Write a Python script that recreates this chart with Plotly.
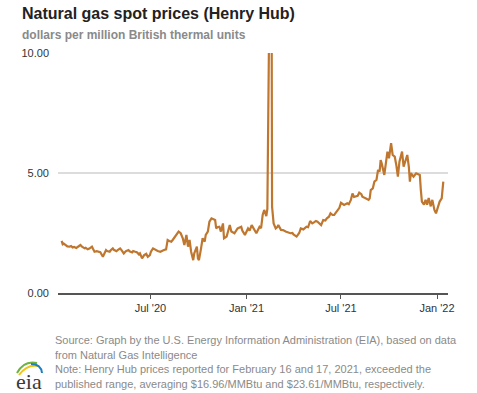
import plotly.graph_objects as go

# Henry Hub daily spot prices, $/MMBtu
dates = [
    "2020-01-13", "2020-01-15", "2020-01-17", "2020-01-22", "2020-01-24", "2020-01-28", "2020-01-31",
    "2020-02-03", "2020-02-06", "2020-02-10", "2020-02-13", "2020-02-18", "2020-02-21", "2020-02-26", "2020-02-28",
    "2020-03-03", "2020-03-06", "2020-03-11", "2020-03-13", "2020-03-16", "2020-03-20", "2020-03-25", "2020-03-27",
    "2020-04-01", "2020-04-03", "2020-04-07", "2020-04-09", "2020-04-14", "2020-04-16", "2020-04-20", "2020-04-22",
    "2020-04-27", "2020-04-30",
    "2020-05-04", "2020-05-07", "2020-05-11", "2020-05-13", "2020-05-15", "2020-05-20", "2020-05-22", "2020-05-27",
    "2020-05-29",
    "2020-06-02", "2020-06-05", "2020-06-09", "2020-06-11", "2020-06-15", "2020-06-17", "2020-06-19", "2020-06-23",
    "2020-06-26", "2020-06-30",
    "2020-07-02", "2020-07-06", "2020-07-09", "2020-07-13", "2020-07-15", "2020-07-20", "2020-07-23", "2020-07-27",
    "2020-07-31",
    "2020-08-03", "2020-08-06", "2020-08-10", "2020-08-13", "2020-08-17", "2020-08-20", "2020-08-24", "2020-08-28",
    "2020-09-01", "2020-09-04", "2020-09-08", "2020-09-11", "2020-09-14", "2020-09-17", "2020-09-21", "2020-09-23",
    "2020-09-28", "2020-09-30",
    "2020-10-02", "2020-10-06", "2020-10-09", "2020-10-13", "2020-10-15", "2020-10-19", "2020-10-22", "2020-10-26",
    "2020-10-29",
    "2020-11-02", "2020-11-04", "2020-11-06", "2020-11-10", "2020-11-13", "2020-11-17", "2020-11-19", "2020-11-24",
    "2020-11-30",
    "2020-12-03", "2020-12-09", "2020-12-15", "2020-12-22", "2020-12-24", "2020-12-29",
    "2021-01-04", "2021-01-07", "2021-01-11", "2021-01-15", "2021-01-20", "2021-01-22", "2021-01-26", "2021-01-29",
    "2021-02-01", "2021-02-04", "2021-02-08", "2021-02-10", "2021-02-11", "2021-02-12", "2021-02-16", "2021-02-17",
    "2021-02-18", "2021-02-19", "2021-02-22", "2021-02-24", "2021-02-26",
    "2021-03-01", "2021-03-03", "2021-03-08", "2021-03-12", "2021-03-17", "2021-03-22", "2021-03-26", "2021-03-30",
    "2021-04-01", "2021-04-07", "2021-04-12", "2021-04-15", "2021-04-20", "2021-04-26", "2021-04-29",
    "2021-05-03", "2021-05-07", "2021-05-11", "2021-05-14", "2021-05-17", "2021-05-20", "2021-05-24", "2021-05-28",
    "2021-06-01", "2021-06-04", "2021-06-08", "2021-06-11", "2021-06-15", "2021-06-18", "2021-06-21", "2021-06-24",
    "2021-06-28",
    "2021-07-01", "2021-07-07", "2021-07-13", "2021-07-16", "2021-07-20", "2021-07-23", "2021-07-26", "2021-07-29",
    "2021-08-02", "2021-08-05", "2021-08-09", "2021-08-11", "2021-08-16", "2021-08-18", "2021-08-23", "2021-08-25",
    "2021-08-27", "2021-08-31",
    "2021-09-03", "2021-09-07", "2021-09-10", "2021-09-13", "2021-09-15", "2021-09-17", "2021-09-22", "2021-09-24",
    "2021-09-28",
    "2021-10-01", "2021-10-05", "2021-10-08", "2021-10-12", "2021-10-15", "2021-10-18", "2021-10-21", "2021-10-26",
    "2021-10-29",
    "2021-11-02", "2021-11-05", "2021-11-08", "2021-11-10", "2021-11-12", "2021-11-17", "2021-11-22", "2021-11-29",
    "2021-12-01", "2021-12-03", "2021-12-07", "2021-12-10", "2021-12-13", "2021-12-16", "2021-12-20", "2021-12-23",
    "2021-12-27", "2021-12-30",
    "2022-01-03", "2022-01-06", "2022-01-10", "2022-01-12", "2022-01-13",
]
prices = [
    2.17, 2.03, 2.06, 1.97, 1.94, 1.93, 1.96,
    1.90, 1.92, 1.88, 1.92, 2.00, 1.93, 1.86, 1.88,
    1.82, 1.85, 1.93, 1.84, 1.72, 1.74, 1.69, 1.70,
    1.51, 1.62, 1.79, 1.75, 1.72, 1.78, 1.86, 1.80,
    1.74, 1.80,
    1.86, 1.78, 1.65, 1.70, 1.74, 1.79, 1.74, 1.69,
    1.75,
    1.72, 1.70, 1.61, 1.65, 1.44, 1.52, 1.58, 1.63,
    1.51, 1.58,
    1.72, 1.86, 1.82, 1.79, 1.75, 1.72, 1.76, 1.79,
    1.82,
    2.21, 2.17, 2.14, 2.22, 2.35, 2.42, 2.56, 2.49,
    2.28, 2.00, 2.42, 1.93, 2.21, 1.72, 1.37, 1.65,
    1.93, 1.44,
    1.37, 1.86, 2.28, 2.14, 2.42, 2.56, 2.97, 3.11,
    3.08,
    3.04, 2.69, 2.74, 2.76, 2.56, 2.90, 2.28, 2.35,
    2.83,
    2.56, 2.49, 2.69, 2.76, 2.60, 2.42,
    2.69, 2.60, 2.83, 2.69, 2.49, 2.58, 2.76, 2.70,
    3.25, 3.46, 3.20, 3.50, 6.00, 7.90, 16.96, 23.61,
    9.50, 3.60, 2.90, 2.75, 2.69,
    2.75, 2.83, 2.63, 2.62, 2.56, 2.52, 2.49, 2.50,
    2.44, 2.35, 2.50, 2.69, 2.65, 2.76, 2.74,
    3.00, 2.90, 2.95, 3.00, 2.97, 2.90, 2.83, 3.04,
    3.02, 3.11, 3.18, 3.32, 3.25, 3.25, 3.35, 3.46,
    3.55,
    3.76, 3.67, 3.74, 3.70, 3.88, 4.15, 4.00, 4.01,
    4.05, 4.18, 4.12, 4.01, 3.98, 3.94, 3.88, 3.94,
    4.29, 4.36,
    4.64, 4.71, 5.13, 5.06, 5.54, 5.40, 4.92, 5.26,
    5.89,
    5.61, 6.24, 5.75, 5.68, 5.33, 4.85, 5.47, 5.89,
    5.26,
    5.61, 5.75, 5.26, 4.64, 4.99, 4.85, 4.99, 4.92,
    4.29, 3.81, 3.68, 3.88, 3.68, 3.96, 3.61, 3.88,
    3.46, 3.32,
    3.60, 3.81, 3.94, 4.36, 4.64,
]

x_tick_vals = ["2020-07-01", "2021-01-01", "2021-07-01", "2022-01-01"]
x_tick_text = ["Jul '20", "Jan '21", "Jul '21", "Jan '22"]
y_tick_vals = [0, 5, 10]
y_tick_text = ["0.00", "5.00", "10.00"]

title_text = "Natural gas spot prices (Henry Hub)"
subtitle_text = "dollars per million British thermal units"
note_lines = [
    "Source: Graph by the U.S. Energy Information Administration (EIA), based on data",
    "from Natural Gas Intelligence",
    "Note: Henry Hub prices reported for February 16 and 17, 2021, exceeded the",
    "published range, averaging $16.96/MMBtu and $23.61/MMBtu, respectively.",
]

W, H = 477, 393
PLOT_L, PLOT_T, PW, PH = 58, 53, 390, 240     # plot area in page pixels
L, T = PLOT_L, PLOT_T
R, B = W - L - PW, H - T - PH


def px(x):
    return (x - PLOT_L) / PW


def py(y):
    return (PLOT_T + PH - y) / PH


FONT = "Liberation Sans, Arial, sans-serif"

fig = go.Figure()
fig.add_trace(go.Scatter(
    x=dates, y=prices, mode="lines",
    line=dict(color="#BF772F", width=2.2),
    hoverinfo="x+y", showlegend=False,
))

annotations = [
    dict(text="<b>" + title_text + "</b>", x=px(20), y=py(14), xref="paper", yref="paper",
         xanchor="left", yanchor="middle", showarrow=False,
         font=dict(family=FONT, size=16, color="#222222")),
    dict(text="<b>" + subtitle_text + "</b>", x=px(20), y=py(35), xref="paper", yref="paper",
         xanchor="left", yanchor="middle", showarrow=False,
         font=dict(family=FONT, size=12, color="#8a8a8a")),
]
for line, ypix in zip(note_lines, [340, 354.5, 369.3, 383.5]):
    annotations.append(dict(text=line, x=px(53), y=py(ypix), xref="paper", yref="paper",
                            xanchor="left", yanchor="middle", showarrow=False,
                            font=dict(family=FONT, size=11, color="#8a8a8a")))
# eia logo text
annotations.append(dict(text="eia", x=px(28.5), y=py(381), xref="paper", yref="paper",
                        xanchor="center", yanchor="middle", showarrow=False,
                        font=dict(family="Liberation Serif, DejaVu Serif, serif", size=22, color="#3a3a3a")))


def pth(pts):
    (x0, y0), (cx, cy), (x1, y1) = pts
    return f"M {px(x0)},{py(y0)} Q {px(cx)},{py(cy)} {px(x1)},{py(y1)}"


shapes = [
    dict(type="path", xref="paper", yref="paper", path=pth([(17, 373), (24, 360), (37, 363)]),
         line=dict(color="#6cb33f", width=2)),
    dict(type="path", xref="paper", yref="paper", path=pth([(19, 375), (27, 364), (38, 366)]),
         line=dict(color="#f2c318", width=2)),
    dict(type="path", xref="paper", yref="paper", path=pth([(31, 364), (41, 364), (42, 373)]),
         line=dict(color="#1a7fc1", width=2)),
]

fig.update_layout(
    width=W, height=H,
    margin=dict(l=L, r=R, t=T, b=B, pad=0),
    paper_bgcolor="white", plot_bgcolor="white",
    font=dict(family=FONT, size=11, color="#333333"),
    annotations=annotations,
    shapes=shapes,
    xaxis=dict(
        type="date",
        range=["2020-01-06", "2022-01-22"],
        tickvals=x_tick_vals, ticktext=x_tick_text,
        showgrid=False, zeroline=False,
        showline=True, linecolor="#555555", linewidth=1.5,
        ticks="outside", ticklen=4, tickcolor="#555555", tickwidth=1,
        tickfont=dict(family=FONT, size=11, color="#333333"),
        fixedrange=True,
    ),
    yaxis=dict(
        range=[0, 10],
        tickvals=y_tick_vals, ticktext=y_tick_text,
        showgrid=True, gridcolor="#dcdcdc", gridwidth=2,
        zeroline=False, showline=False, ticks="",
        ticklabelstandoff=8,
        tickfont=dict(family=FONT, size=11, color="#333333"),
        fixedrange=True,
    ),
)

# remove the browser's default 8px body margin so the figure sits at the page origin
fig.write_html(
    "out.html",
    config={"displayModeBar": False},
    post_script="document.body.style.margin='0';document.body.style.overflow='hidden';",
)
